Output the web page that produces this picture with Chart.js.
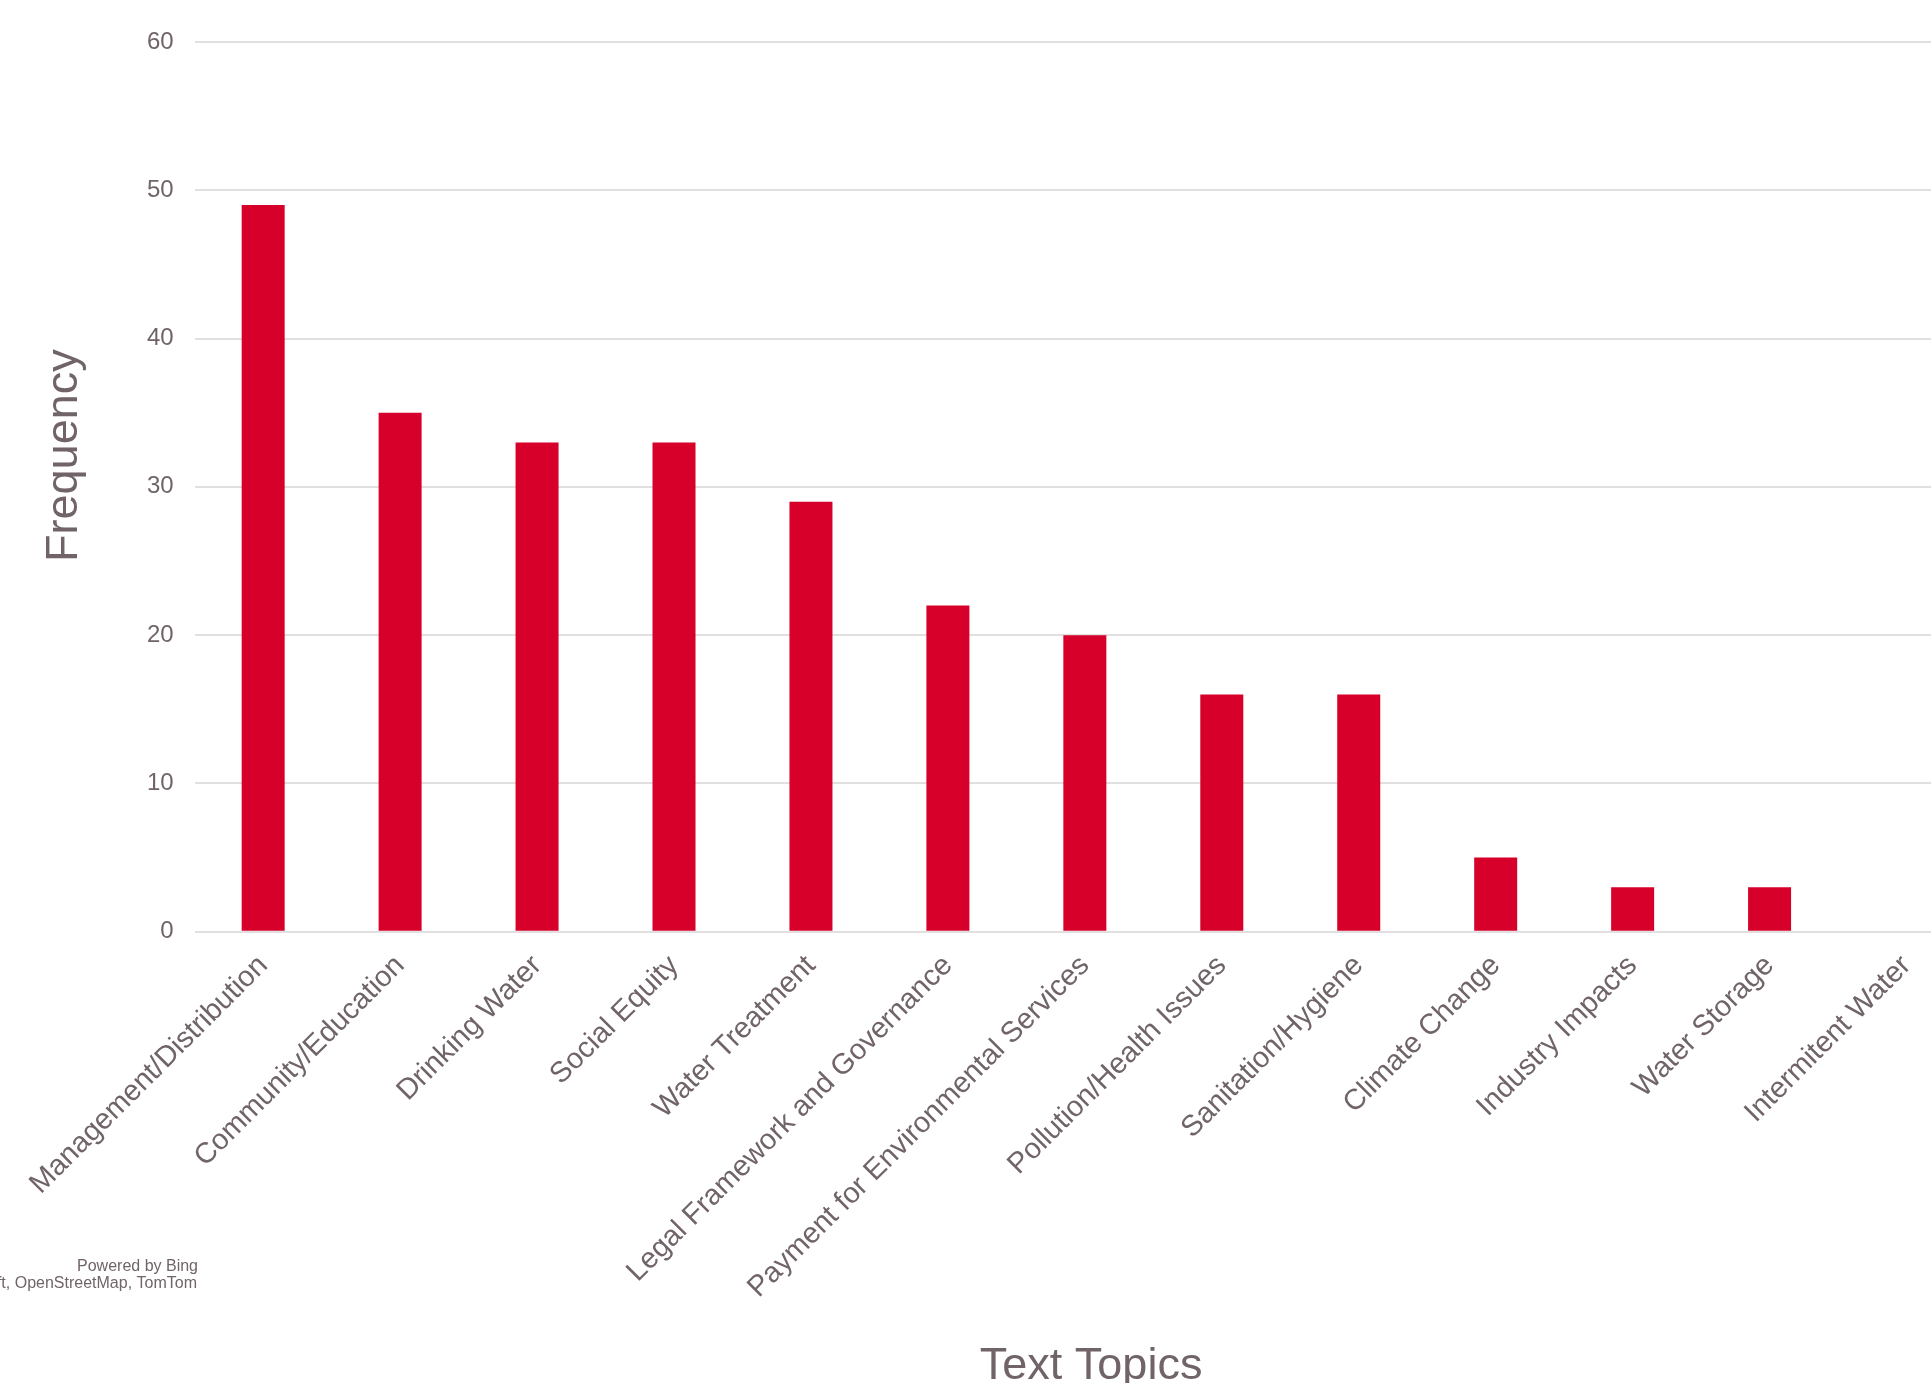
<!DOCTYPE html>
<html>
<head>
<meta charset="utf-8">
<title>Text Topics Frequency</title>
<script src="https://cdn.jsdelivr.net/npm/chart.js@4.4.1/dist/chart.umd.min.js"></script>
<style>
    html, body {
        margin: 0;
        padding: 0;
        background: #ffffff;
        overflow: hidden;
        width: 1931px;
        height: 1383px;
    }
    #chartWrap {
        position: absolute;
        left: 0;
        top: 0;
        width: 1975px;
        height: 1394px;
    }
</style>
</head>
<body>
<div id="chartWrap">
    <canvas id="topicFrequencyChart"></canvas>
</div>
<script>
// Data
const topicLabels = [
    'Management/Distribution',
    'Community/Education',
    'Drinking Water',
    'Social Equity',
    'Water Treatment',
    'Legal Framework and Governance',
    'Payment for Environmental Services',
    'Pollution/Health Issues',
    'Sanitation/Hygiene',
    'Climate Change',
    'Industry Impacts',
    'Water Storage',
    'Intermitent Water'
];
const topicCounts = [49, 35, 33, 33, 29, 22, 20, 16, 16, 5, 3, 3, 0];
const yTickValues = [0, 10, 20, 30, 40, 50, 60];
const attributionLines = ['Powered by Bing', 'Microsoft, OpenStreetMap, TomTom'];

const textColor = '#706469';
const barColor = '#D6002B';
const gridColor = '#E2DFE0';
const fontFamily = "'Liberation Sans', Arial, sans-serif";

// small plugin for the map attribution text in the bottom left corner
const attributionPlugin = {
    id: 'attribution',
    afterDraw(chart) {
        const ctx = chart.ctx;
        ctx.save();
        ctx.font = '16px ' + fontFamily;
        ctx.fillStyle = textColor;
        ctx.textAlign = 'right';
        ctx.textBaseline = 'alphabetic';
        ctx.fillText(attributionLines[0], 198, 1271);
        ctx.fillText(attributionLines[1], 197, 1288);
        ctx.restore();
    }
};

function loadTopicChart() {
    const canvas = document.getElementById('topicFrequencyChart');
    if (!canvas) {
        console.warn("Canvas 'topicFrequencyChart' not found.");
        return;
    }
    const ctx = canvas.getContext('2d');

    new Chart(ctx, {
        type: 'bar',
        data: {
            labels: topicLabels,
            datasets: [{
                label: 'Frequency',
                data: topicCounts,
                backgroundColor: barColor,
                borderWidth: 0,
                categoryPercentage: 1,
                barPercentage: 0.314
            }]
        },
        options: {
            responsive: true,
            maintainAspectRatio: false,
            animation: false,
            layout: {
                padding: { top: 42, left: 0, right: 0, bottom: 0 }
            },
            plugins: {
                legend: { display: false },
                tooltip: { enabled: false }
            },
            scales: {
                x: {
                    grid: { display: false, drawTicks: false },
                    border: { display: false },
                    ticks: {
                        color: textColor,
                        font: { family: fontFamily, size: 29 },
                        minRotation: 45,
                        maxRotation: 45,
                        autoSkip: false,
                        padding: 17
                    },
                    title: {
                        display: true,
                        text: ' Text Topics',
                        color: textColor,
                        font: { family: fontFamily, size: 45 },
                        padding: { top: 18, bottom: 0 }
                    }
                },
                y: {
                    min: 0,
                    max: 60,
                    afterBuildTicks: function (axis) {
                        axis.ticks = yTickValues.map(function (v) { return { value: v }; });
                    },
                    grid: {
                        color: gridColor,
                        lineWidth: 2,
                        drawTicks: false
                    },
                    border: { display: false },
                    ticks: {
                        color: textColor,
                        font: { family: fontFamily, size: 24 },
                        padding: 21
                    },
                    title: {
                        display: true,
                        // leading spaces push the title a bit above the plot centre, as in the original
                        text: '     Frequency',
                        color: textColor,
                        font: { family: fontFamily, size: 45 },
                        padding: { top: 38, bottom: 34 }
                    }
                }
            }
        },
        plugins: [attributionPlugin]
    });
}

loadTopicChart();
</script>
</body>
</html>
